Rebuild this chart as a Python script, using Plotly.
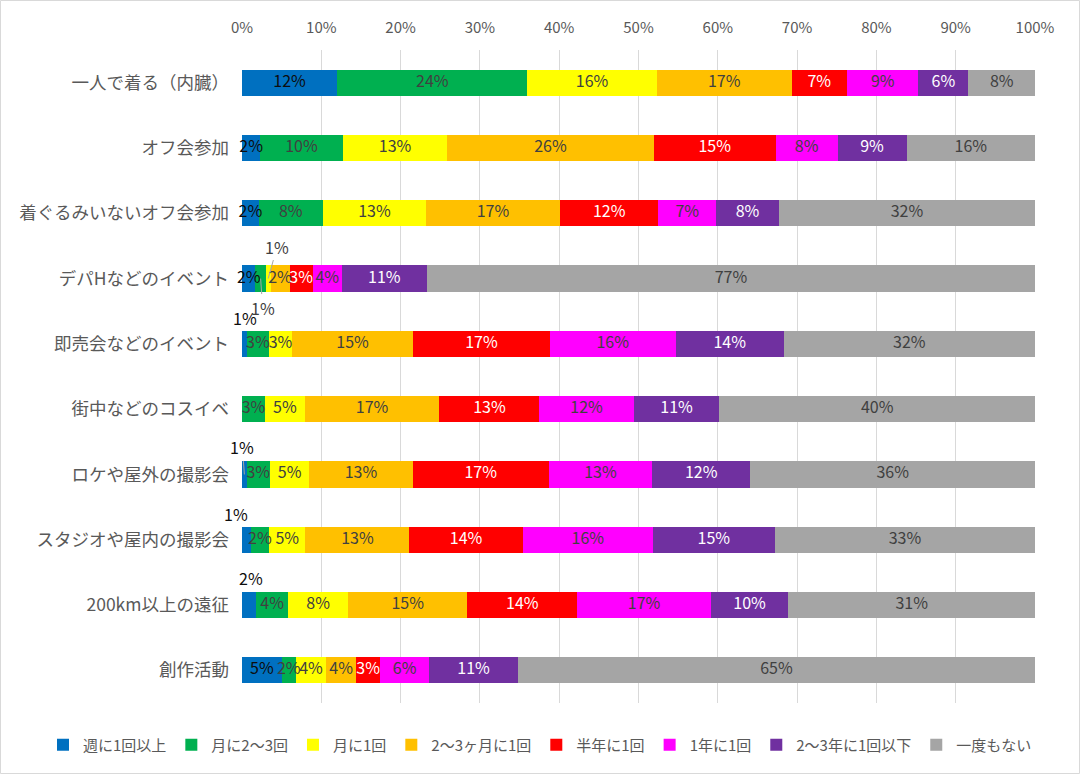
import plotly.graph_objects as go

categories = [
    "一人で着る（内臓）",
    "オフ会参加",
    "着ぐるみいないオフ会参加",
    "デパHなどのイベント",
    "即売会などのイベント",
    "街中などのコスイベ",
    "ロケや屋外の撮影会",
    "スタジオや屋内の撮影会",
    "200km以上の遠征",
    "創作活動",
]

series_names = ["週に1回以上", "月に2～3回", "月に1回", "2～3ヶ月に1回",
                "半年に1回", "1年に1回", "2～3年に1回以下", "一度もない"]

weekly      = [12.0, 2.3, 2.1, 1.7, 0.6, 0.0, 0.6, 1.1, 1.8, 5.0]
month_2_3   = [24.0, 10.4, 8.1, 1.3, 2.8, 2.9, 2.9, 2.3, 4.0, 1.8]
monthly     = [16.3, 13.2, 13.0, 0.6, 2.9, 5.0, 5.0, 4.6, 7.6, 3.8]
months_2_3  = [17.0, 26.0, 16.9, 2.4, 15.3, 17.0, 13.0, 13.1, 15.0, 3.8]
half_year   = [7.0, 15.4, 12.4, 2.9, 17.2, 12.6, 17.2, 14.3, 13.9, 3.0]
yearly      = [9.0, 7.8, 7.3, 3.7, 15.9, 11.9, 13.0, 16.4, 16.8, 6.2]
years_2_3   = [6.3, 8.7, 7.9, 10.7, 13.6, 10.8, 12.4, 15.4, 9.8, 11.2]
never       = [8.4, 16.2, 32.3, 76.7, 31.7, 39.8, 35.9, 32.8, 31.1, 65.2]

series_values = [weekly, month_2_3, monthly, months_2_3, half_year, yearly, years_2_3, never]

tick_vals = [0, 10, 20, 30, 40, 50, 60, 70, 80, 90, 100]
tick_text = [f"{v}%" for v in tick_vals]

# ---- styles ----
colors = ["#0070C0", "#00B050", "#FFFF00", "#FFC000", "#FF0000", "#FF00FF", "#7030A0", "#A5A5A5"]
label_colors = ["#0d0d0d", "#404040", "#404040", "#404040", "#FFFFFF", "#404040", "#FFFFFF", "#404040"]
FONT = "Noto Sans CJK JP"
TXT = "#595959"
LABEL_SIZE = 16

# labels drawn outside their tiny segment: (row, series, dx px, dy px, leader line)
outside = [
    (3, 1, 2, 29, True),
    (3, 2, 9, -32, True),
    (4, 0, 1, -26, False),
    (6, 0, -2, -27, True),
    (7, 0, -10, -26, False),
    (8, 0, 2, -27, False),
]
outside_set = {(r, s) for r, s, *_ in outside}

fig = go.Figure()
for si, (name, vals) in enumerate(zip(series_names, series_values)):
    fig.add_trace(go.Bar(
        name=name, y=categories, x=vals, orientation="h",
        marker=dict(color=colors[si], line=dict(width=0)),
        hoverinfo="skip",
    ))

# data labels (drawn above all bars, centred on each segment)
for si, vals in enumerate(series_values):
    xs, ys, ts = [], [], []
    for ri, v in enumerate(vals):
        if v <= 0 or (ri, si) in outside_set:
            continue
        start = sum(series_values[k][ri] for k in range(si))
        xs.append(start + v / 2)
        ys.append(categories[ri])
        ts.append(f"{round(v):d}%")
    fig.add_trace(go.Scatter(
        x=xs, y=ys, text=ts, mode="text", textposition="middle center",
        textfont=dict(family=FONT, size=LABEL_SIZE, color=label_colors[si]),
        showlegend=False, hoverinfo="skip", cliponaxis=False,
    ))

annotations = []
for r, s, dx, dy, leader in outside:
    start = sum(series_values[k][r] for k in range(s))
    v = series_values[s][r]
    xc = start + v / 2
    col = "#404040" if s else "#0d0d0d"
    if leader:
        annotations.append(dict(
            x=xc, y=categories[r], xref="x", yref="y",
            text=f"{max(1, round(v)):d}%", showarrow=True, arrowhead=0,
            arrowwidth=1, arrowcolor="#a6a6a6", ax=dx, ay=dy, standoff=0,
            font=dict(family=FONT, size=LABEL_SIZE, color=col),
        ))
    else:
        annotations.append(dict(
            x=xc, y=categories[r], xref="x", yref="y",
            text=f"{max(1, round(v)):d}%", showarrow=False,
            xshift=dx, yshift=-dy,
            font=dict(family=FONT, size=LABEL_SIZE, color=col),
        ))

W, H = 1080, 774
ml, mr, mt, mb = 242, 45, 50, 71
pw, ph = W - ml - mr, H - mt - mb

fig.update_layout(
    width=W, height=H,
    barmode="stack", bargap=0.6,
    margin=dict(l=ml, r=mr, t=mt, b=mb),
    paper_bgcolor="white", plot_bgcolor="white",
    font=dict(family=FONT, color=TXT),
    showlegend=True,
    legend=dict(orientation="h",
                x=(43 - ml) / pw, xanchor="left", y=-42 / ph, yanchor="middle",
                font=dict(family=FONT, size=15, color=TXT), traceorder="normal",
                itemwidth=30, tracegroupgap=0),
    annotations=annotations,
    shapes=[dict(type="rect", xref="paper", yref="paper",
                 x0=(-ml + 0.5) / pw, x1=(W - ml - 0.5) / pw,
                 y0=(-mb + 0.5) / ph, y1=(ph + mt - 0.5) / ph,
                 line=dict(color="#d9d9d9", width=1), layer="below")],
)
fig.update_xaxes(
    range=[0, 100], side="top", tickvals=tick_vals, ticktext=tick_text,
    showgrid=True, gridcolor="#d9d9d9", gridwidth=1, zeroline=False,
    showline=False, ticks="", ticklabelstandoff=13,
    tickfont=dict(family=FONT, size=15, color=TXT), fixedrange=True,
)
fig.update_yaxes(
    autorange="reversed", showgrid=False, zeroline=False, showline=False,
    ticks="", ticklabelstandoff=12,
    tickfont=dict(family=FONT, size=17.5, color=TXT), fixedrange=True,
)

fig.write_html("out.html")
